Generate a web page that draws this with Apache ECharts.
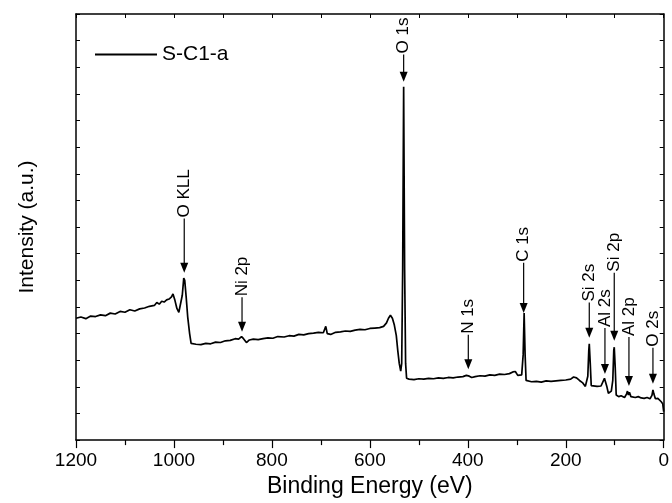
<!DOCTYPE html>
<html>
<head>
<meta charset="utf-8">
<title>XPS survey S-C1-a</title>
<script src="https://cdn.jsdelivr.net/npm/echarts@6/dist/echarts.min.js"></script>
<style>
    html, body { margin: 0; padding: 0; background: #fff; }
    #main { width: 672px; height: 503px; }
</style>
</head>
<body>
<div id="main"></div>
<script>
// 结合能 (eV) 与强度 (a.u.)
var energy = [1200, 1190, 1180, 1170, 1160, 1150, 1140, 1130, 1120, 1110, 1100, 1090, 1080, 1070, 1060, 1050, 1040, 1035, 1030, 1025,
    1020, 1015, 1010, 1005, 1002, 998, 994, 990, 987, 983, 980, 978, 975, 972, 968, 965, 962, 955, 945, 935,
    925, 915, 905, 895, 885, 875, 868, 862, 858, 852, 846, 838, 828, 818, 808, 798, 788, 775, 765, 755,
    745, 735, 725, 715, 705, 695, 690, 687, 680, 670, 660, 650, 640, 630, 620, 610, 600, 590, 580, 572,
    566, 562, 558, 554, 550, 546, 543, 540, 537, 535, 533, 531, 529, 527, 525, 520, 510, 500, 490, 480,
    470, 460, 450, 440, 430, 420, 410, 403, 400, 397, 392, 385, 375, 365, 355, 345, 335, 325, 315, 308,
    303, 298, 294, 290, 287, 285, 283, 281, 278, 270, 260, 250, 240, 230, 220, 210, 200, 190, 184, 178,
    172, 166, 160, 157, 155, 153, 152, 150, 148, 144, 136, 128, 124, 121, 119, 116, 113, 110, 107, 104,
    102, 101, 99, 97, 92, 87, 83, 80, 76, 74, 72, 70, 67, 63, 58, 52, 46, 40, 34, 28,
    24, 22, 20, 17, 12, 8, 5, 2, 0]
var intensity = [28.6, 28.9, 28.5, 29.1, 29.0, 29.4, 29.2, 29.8, 29.6, 30.2, 30.0, 30.6, 30.3, 30.8, 31.0, 31.4, 31.6, 32.3, 31.9, 32.6,
    32.4, 32.9, 33.1, 33.6, 34.3, 32.8, 30.9, 30.0, 29.8, 34.0, 38.0, 37.5, 33.5, 29.0, 25.0, 22.7, 22.3, 22.5, 22.4, 22.7,
    22.6, 23.0, 22.9, 23.3, 23.4, 23.8, 23.7, 24.3, 23.8, 22.9, 23.5, 23.7, 23.6, 23.8, 24.0, 23.9, 24.3, 24.2, 24.5, 24.4,
    24.8, 24.7, 25.0, 25.1, 25.3, 25.2, 26.7, 25.0, 24.8, 25.3, 25.4, 25.6, 25.5, 25.8, 26.0, 25.9, 26.2, 26.3, 26.4, 26.7,
    27.5, 28.6, 29.3, 28.6, 27.0, 24.5, 21.0, 18.0, 16.2, 18.0, 40.0, 82.9, 40.0, 18.0, 14.5, 14.3, 14.2, 14.4, 14.3, 14.5,
    14.4, 14.6, 14.5, 14.7, 14.6, 14.8, 14.9, 15.2, 15.6, 15.0, 14.7, 14.9, 15.1, 15.0, 15.3, 15.2, 15.5, 15.4, 15.6, 16.0,
    16.1, 15.2, 14.8, 15.3, 20.0, 29.8, 20.0, 14.0, 13.6, 13.7, 13.8, 13.6, 13.9, 13.8, 13.9, 14.0, 14.1, 14.3, 14.8, 14.6,
    14.0, 13.5, 12.6, 12.4, 15.0, 21.0, 22.6, 18.0, 12.8, 12.4, 12.6, 12.7, 13.0, 14.5, 14.2, 12.5, 11.0, 10.8, 11.5, 14.0,
    21.0, 21.8, 17.0, 10.6, 10.2, 10.4, 10.2, 10.0, 10.8, 11.5, 10.6, 11.2, 10.2, 10.3, 10.0, 10.2, 9.9, 9.8, 10.0, 9.7,
    10.5, 11.8, 10.8, 9.7, 9.8, 9.4, 9.0, 8.5, 6.7]

// 峰的标注：位置 (eV)、箭头尖端强度、引线顶端强度
var peakNames = ['O KLL', 'Ni 2p', 'O 1s', 'N 1s', 'C 1s', 'Si 2s', 'Al 2s', 'Si 2p', 'Al 2p', 'O 2s']
var peakEnergy = [979, 861, 531, 399, 286, 152, 120, 101, 71, 22]
var peakTip = [39.3, 25.4, 84.1, 16.6, 29.8, 24.0, 15.5, 23.3, 12.7, 13.2]
var peakTop = [52.0, 33.5, 90.5, 24.7, 41.6, 32.3, 26.3, 39.3, 24.2, 21.7]

var xTicks = [0, 200, 400, 600, 800, 1000, 1200]

function initXpsChart() {
    let chart = echarts.init(document.getElementById('main'))
    let fontName = 'Liberation Sans, Arial, sans-serif'

    let curve = energy.map(function (e, i) { return [e, intensity[i]] })
    let labels = peakNames.map(function (n, i) { return [peakEnergy[i], peakTip[i], peakTop[i], n] })

    let option = {
        animation: false,
        backgroundColor: '#ffffff',
        textStyle: { fontFamily: fontName, color: '#000' },
        grid: { left: 76, right: 4, top: 14, bottom: 56 },
        legend: {
            data: ['S-C1-a'],
            left: 90,
            top: 39,
            itemWidth: 62,
            itemHeight: 2,
            icon: 'rect',
            textStyle: { fontSize: 21, color: '#000', fontFamily: fontName }
        },
        xAxis: [
            {
                type: 'value',
                min: 0,
                max: 1200,
                interval: 200,
                inverse: true,
                name: 'Binding Energy (eV)',
                nameLocation: 'middle',
                nameGap: 34,
                nameTextStyle: { fontSize: 23, color: '#000', fontFamily: fontName },
                axisLine: { show: true, onZero: false, lineStyle: { color: '#000', width: 1.5 } },
                axisTick: { show: true, inside: false, length: 8, lineStyle: { color: '#000', width: 1.2 } },
                minorTick: { show: true, splitNumber: 2, length: 5, lineStyle: { color: '#000', width: 1.2 } },
                axisLabel: {
                    fontSize: 19, color: '#000', margin: 11, fontFamily: fontName,
                    formatter: function (v) { return xTicks.indexOf(v) >= 0 ? String(v) : '' }
                },
                splitLine: { show: false }
            },
            {
                type: 'value',
                position: 'top',
                min: 0,
                max: 1200,
                interval: 100,
                inverse: true,
                axisLine: { show: true, onZero: false, lineStyle: { color: '#000', width: 1.5 } },
                axisTick: { show: true, inside: true, length: 4, lineStyle: { color: '#000', width: 1 } },
                axisLabel: { show: false },
                splitLine: { show: false }
            }
        ],
        yAxis: [
            {
                type: 'value',
                min: 0,
                max: 100,
                interval: 6.25,
                name: 'Intensity (a.u.)',
                nameLocation: 'middle',
                nameGap: 38,
                nameTextStyle: { fontSize: 21, color: '#000', fontFamily: fontName },
                axisLine: { show: true, onZero: false, lineStyle: { color: '#000', width: 1.5 } },
                axisTick: { show: true, inside: true, length: 4, lineStyle: { color: '#000', width: 1 } },
                axisLabel: { show: false },
                splitLine: { show: false }
            },
            {
                type: 'value',
                position: 'right',
                min: 0,
                max: 100,
                interval: 6.25,
                axisLine: { show: true, onZero: false, lineStyle: { color: '#000', width: 1.5 } },
                axisTick: { show: true, inside: true, length: 4, lineStyle: { color: '#000', width: 1 } },
                axisLabel: { show: false },
                splitLine: { show: false }
            }
        ],
        series: [
            {
                name: 'S-C1-a',
                type: 'line',
                data: curve,
                showSymbol: false,
                symbol: 'none',
                sampling: 'none',
                lineStyle: { color: '#000', width: 1.7 },
                itemStyle: { color: '#000' },
                z: 3
            },
            {
                name: 'peaks',
                type: 'custom',
                data: labels,
                z: 4,
                renderItem: function (params, api) {
                    let tip = api.coord([api.value(0), api.value(1)])
                    let top = api.coord([api.value(0), api.value(2)])
                    let name = peakNames[params.dataIndex]
                    let headH = 10
                    let headW = 4
                    return {
                        type: 'group',
                        children: [
                            {
                                type: 'line',
                                shape: { x1: top[0], y1: top[1], x2: tip[0], y2: tip[1] - headH + 1 },
                                style: { stroke: '#000', lineWidth: 1.2 }
                            },
                            {
                                type: 'polygon',
                                shape: { points: [[tip[0] - headW, tip[1] - headH], [tip[0] + headW, tip[1] - headH], [tip[0], tip[1]]] },
                                style: { fill: '#000' }
                            },
                            {
                                type: 'text',
                                x: top[0],
                                y: top[1] - 1,
                                rotation: Math.PI / 2,
                                style: {
                                    text: name,
                                    x: 0,
                                    y: 0,
                                    align: 'left',
                                    verticalAlign: 'middle',
                                    fontSize: 17,
                                    fontFamily: fontName,
                                    fill: '#000'
                                }
                            }
                        ]
                    }
                }
            }
        ]
    }
    chart.setOption(option)
}

initXpsChart()
</script>
</body>
</html>
